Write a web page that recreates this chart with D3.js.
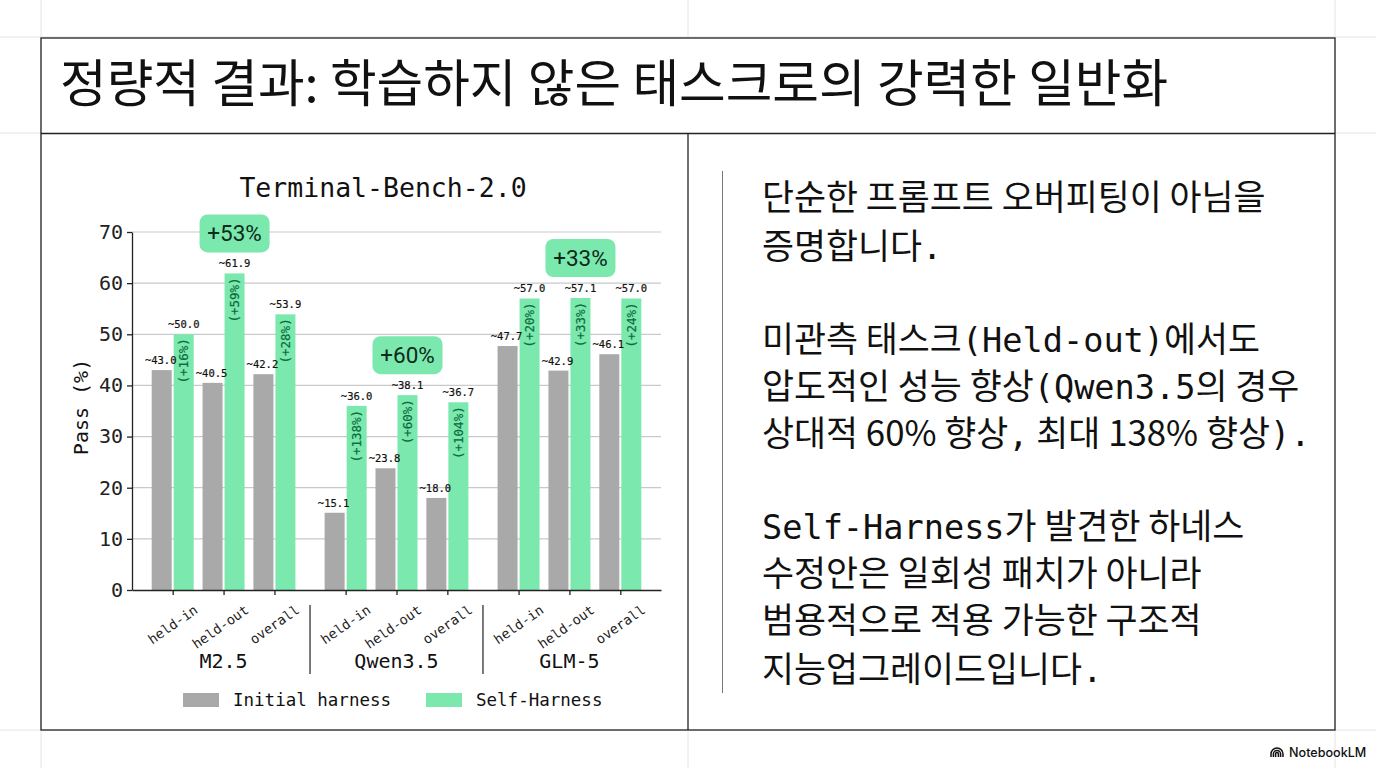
<!DOCTYPE html>
<html>
<head>
<meta charset="utf-8">
<script src="https://cdn.jsdelivr.net/npm/d3@7"></script>
<style>
  html, body { margin: 0; padding: 0; background: #fff; overflow: hidden; }
  .mono { font-family: "DejaVu Sans Mono", monospace; fill: #111; }
  .kr { font-family: "Noto Sans CJK KR", sans-serif; fill: #111; }
  .axis path, .axis line { stroke: #222; stroke-width: 1.3; }
  .axis text { font-family: "DejaVu Sans Mono", monospace; fill: #222; }
</style>
</head>
<body>
<svg id="slide" width="1376" height="768"></svg>
<script>
const titleText = "정량적 결과: 학습하지 않은 태스크로의 강력한 일반화";
const chartTitle = "Terminal-Bench-2.0";
const models = ["M2.5", "Qwen3.5", "GLM-5"];
const splits = ["held-in", "held-out", "overall"];
const seriesNames = ["Initial harness", "Self-Harness"];
const initial = [43.0, 40.5, 42.2, 15.1, 23.8, 18.0, 47.7, 42.9, 46.1];
const selfHarness = [50.0, 61.9, 53.9, 36.0, 38.1, 36.7, 57.0, 57.1, 57.0];
const gains = ["(+16%)", "(+59%)", "(+28%)", "(+138%)", "(+60%)", "(+104%)", "(+20%)", "(+33%)", "(+24%)"];
const badges = ["+53%", "+60%", "+33%"];
const yTicks = [0, 10, 20, 30, 40, 50, 60, 70];
// each line is a list of [text, font] runs, k = korean, m = mono
const bodyLines = [
  [[["단순한 프롬프트 오버피팅이 아님을", "k"]], 198],
  [[["증명합니다", "k"], [".", "m"]], 247],
  [[["미관측 태스크", "k"], ["(Held-out)", "m"], ["에서도", "k"]], 340],
  [[["압도적인 성능 향상", "k"], ["(Qwen3.5", "m"], ["의 경우", "k"]], 387],
  [[["상대적 60% 향상", "k"], [",", "m"], [" 최대 138% 향상", "k"], [").", "m"]], 434],
  [[["Self-Harness", "m"], ["가 발견한 하네스", "k"]], 527],
  [[["수정안은 일회성 패치가 아니라", "k"]], 574],
  [[["범용적으로 적용 가능한 구조적", "k"]], 621],
  [[["지능업그레이드입니다", "k"], [".", "m"]], 670]
];

const GRAY = "#a9a9a9", GREEN = "#7be8ae";
const svg = d3.select("#slide");

// faint page guides
const guideX = [41, 688, 1335], guideY = [37, 133, 730];
svg.selectAll(".gx").data(guideX).enter().append("line")
  .attr("x1", d => d).attr("x2", d => d).attr("y1", 0).attr("y2", 768)
  .attr("stroke", "#e4e4e4");
svg.selectAll(".gy").data(guideY).enter().append("line")
  .attr("x1", 0).attr("x2", 1376).attr("y1", d => d).attr("y2", d => d)
  .attr("stroke", "#e4e4e4");

// frame
svg.append("rect").attr("x", 41).attr("y", 38).attr("width", 1294).attr("height", 692)
  .attr("fill", "#fff").attr("stroke", "#222").attr("stroke-width", 1.3);
svg.append("line").attr("x1", 41).attr("x2", 1335).attr("y1", 133.5).attr("y2", 133.5).attr("stroke", "#222").attr("stroke-width", 1.3);
svg.append("line").attr("x1", 688).attr("x2", 688).attr("y1", 133.5).attr("y2", 730).attr("stroke", "#222").attr("stroke-width", 1.3);
svg.append("line").attr("x1", 722.5).attr("x2", 722.5).attr("y1", 171).attr("y2", 693).attr("stroke", "#777").attr("stroke-width", 1);

svg.append("text").attr("class", "kr").attr("x", 60).attr("y", 102)
  .attr("font-size", 50.7).attr("font-weight", 400).text(titleText);

// chart
const x = d3.scaleLinear().domain([-0.8, 9.6]).range([132, 661]);
const y = d3.scaleLinear().domain([0, 70]).range([590, 232]);
const pos = i => Math.floor(i / 3) * 3.4 + (i % 3);
const barW = 20, barGap = 1;

svg.append("text").attr("class", "mono").attr("x", 383).attr("y", 197)
  .attr("text-anchor", "middle").attr("font-size", 26.5).text(chartTitle);

svg.append("g").selectAll("line").data(yTicks.slice(1)).enter().append("line")
  .attr("x1", 132).attr("x2", 661).attr("y1", d => y(d)).attr("y2", d => y(d))
  .attr("stroke", "#c9c9c9").attr("stroke-width", 1.2);

svg.selectAll(".bar0").data(initial).enter().append("rect")
  .attr("x", (d, i) => x(pos(i)) - barW - barGap).attr("width", barW)
  .attr("y", d => y(d)).attr("height", d => y(0) - y(d)).attr("fill", GRAY);
svg.selectAll(".bar1").data(selfHarness).enter().append("rect")
  .attr("x", (d, i) => x(pos(i)) + barGap).attr("width", barW)
  .attr("y", d => y(d)).attr("height", d => y(0) - y(d)).attr("fill", GREEN);

svg.selectAll(".lab0").data(initial).enter().append("text").attr("class", "mono")
  .attr("x", (d, i) => x(pos(i)) - barW / 2 - 2).attr("y", d => y(d) - 6)
  .attr("text-anchor", "middle").attr("font-size", 10.5).style("stroke", "#111").style("stroke-width", 0.2)
  .text(d => "~" + d.toFixed(1));
svg.selectAll(".lab1").data(selfHarness).enter().append("text").attr("class", "mono")
  .attr("x", (d, i) => x(pos(i)) + barW / 2 + 1).attr("y", d => y(d) - 6)
  .attr("text-anchor", "middle").attr("font-size", 10.5).style("stroke", "#111").style("stroke-width", 0.2)
  .text(d => "~" + d.toFixed(1));

svg.selectAll(".gain").data(selfHarness).enter().append("text").attr("class", "mono")
  .attr("transform", (d, i) => `translate(${x(pos(i)) + barW / 2 + 5.5},${y(d) + 4}) rotate(-90)`)
  .attr("text-anchor", "end").attr("font-size", 12.5).style("fill", "#0b6b3c")
  .style("stroke", "#0b6b3c").style("stroke-width", 0.2)
  .text((d, i) => gains[i]);

const yAxis = svg.append("g").attr("class", "axis").attr("transform", "translate(132,0)")
  .call(d3.axisLeft(y).tickValues(yTicks).tickSize(5).tickPadding(4).tickSizeOuter(0));
yAxis.selectAll("text").attr("font-size", 20);

const xAxis = svg.append("g").attr("class", "axis").attr("transform", "translate(0,590)")
  .call(d3.axisBottom(x).tickValues(initial.map((d, i) => pos(i))).tickSize(5).tickSizeOuter(0)
    .tickFormat((d, i) => splits[i % 3]));
xAxis.selectAll("text").attr("font-size", 13.5).attr("text-anchor", "end")
  .attr("dy", 0).attr("transform", "translate(21,15.5) rotate(-35)");

svg.append("text").attr("class", "mono").attr("transform", "translate(88,407) rotate(-90)")
  .attr("text-anchor", "middle").attr("font-size", 20).text("Pass (%)");

// model names and separators
svg.selectAll(".model").data(models).enter().append("text").attr("class", "mono")
  .attr("x", (d, i) => x(pos(i * 3 + 1))).attr("y", 668)
  .attr("text-anchor", "middle").attr("font-size", 20).text(d => d);
svg.selectAll(".sep").data(models.slice(1)).enter().append("line")
  .attr("x1", (d, i) => x(pos((i + 1) * 3) - 0.7)).attr("x2", (d, i) => x(pos((i + 1) * 3) - 0.7))
  .attr("y1", 605).attr("y2", 674).attr("stroke", "#222").attr("stroke-width", 1.2);

// delta badges, above the held-out self-harness bar
badges.forEach((b, g) => {
  const cx = x(pos(g * 3 + 1)) + barW / 2 + barGap;
  const cy = y(selfHarness[g * 3 + 1]) - 40;
  svg.append("rect").attr("x", cx - 35).attr("y", cy - 19).attr("width", 70).attr("height", 38)
    .attr("rx", 8).attr("fill", GREEN);
  svg.append("text").attr("x", cx).attr("y", cy + 8).attr("text-anchor", "middle")
    .attr("font-family", "Roboto, sans-serif").attr("font-size", 22.5).attr("fill", "#0c2a1b").text(b);
});

// legend
const legendX = [183, 426];
seriesNames.forEach((n, i) => {
  svg.append("rect").attr("x", legendX[i]).attr("y", 693).attr("width", 36).attr("height", 14)
    .attr("fill", i ? GREEN : GRAY);
  svg.append("text").attr("class", "mono").attr("x", legendX[i] + 50).attr("y", 706)
    .attr("font-size", 17.5).text(n);
});

// right column
bodyLines.forEach(([runs, cy]) => {
  const t = svg.append("text").attr("x", 762).attr("y", cy + 12).attr("font-size", 34.8).attr("xml:space", "preserve");
  runs.forEach(([s, f]) => {
    t.append("tspan").attr("class", f === "m" ? "mono" : "kr").attr("font-size", f === "m" ? 33.6 : 34.8).text(s);
  });
});

// footer mark
const logo = svg.append("g").attr("transform", "translate(1277,757)").attr("fill", "none").attr("stroke", "#111").attr("stroke-width", 1.5);
[6, 3.6, 1.4].forEach(r => {
  logo.append("path").attr("d", `M${-r},0 V${-3} A${r},${r} 0 0 1 ${r},${-3} V0`);
});
svg.append("text").attr("x", 1289).attr("y", 757).attr("font-family", "Inter, sans-serif")
  .attr("font-size", 12.6).attr("font-weight", 500).attr("fill", "#111").text("NotebookLM");
</script>
</body>
</html>
